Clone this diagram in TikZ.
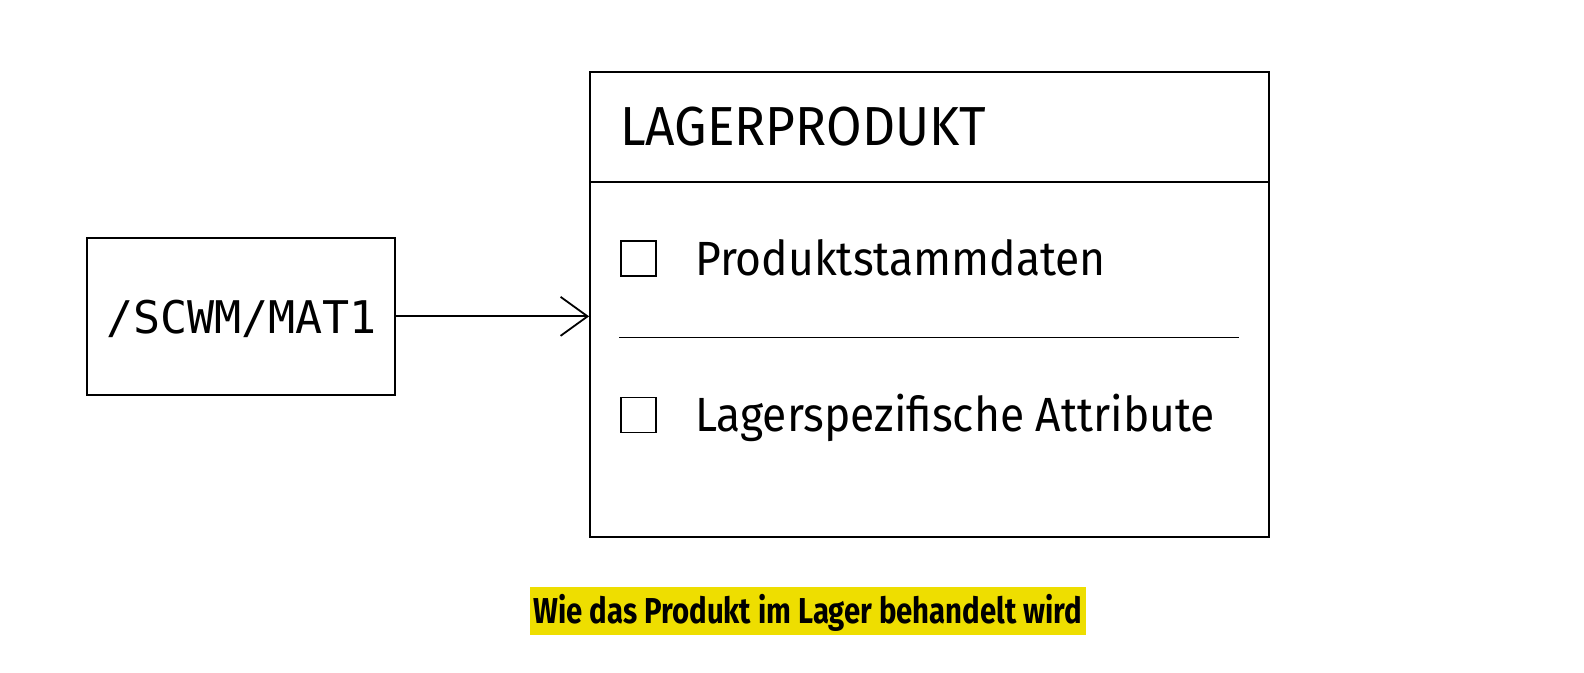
\documentclass[tikz,border=0pt]{standalone}
\usepackage{fontspec}
\setmainfont{Fira Sans}
\newfontfamily\titlefont[FakeStretch=0.935]{Fira Sans}
\newfontfamily\itemfont[FakeStretch=0.925]{Fira Sans}
\newfontfamily\capfont[FakeStretch=0.815]{Fira Sans}
\newfontfamily\monofont{DejaVu Sans Mono}
\usetikzlibrary{arrows.meta}
\definecolor{capyellow}{RGB}{238,222,0}
\tikzset{
  boxline/.style={draw=black, line width=1.8pt},
  plainbox/.style={boxline, rectangle, inner sep=0pt},
  checkbox/.style={boxline, rectangle, inner sep=0pt, minimum size=35pt},
  txt/.style={inner sep=0pt, anchor=base west, text=black},
  conn/.style={line width=1.8pt, -{Straight Barb[length=27pt,width=39pt,line width=1.8pt]}},
}
\begin{document}
\begin{tikzpicture}[x=1pt,y=-1pt]
\useasboundingbox (0,0) rectangle (1584,672);
% left box
\node[plainbox, minimum width=308.3pt, minimum height=157.3pt] (mat) at (240.85,316.35) {};
\node[inner sep=0pt, anchor=base] (matlabel) at (241.5,333) {\monofont\fontsize{45}{50}\selectfont /SCWM/MAT1};
% right box
\node[plainbox, minimum width=679pt, minimum height=464.7pt] (lager) at (929.5,304.65) {};
\coordinate (sepL) at (590,181.7);
\coordinate (sepR) at (1269,181.7);
\draw[boxline] (sepL) -- (sepR);
\node[txt] (title) at (620,145) {\titlefont\fontsize{55}{60}\selectfont LAGERPRODUKT};
% items
\node[checkbox] (cb1) at (638.3,258.8) {};
\node[txt] (item1) at (695,275) {\itemfont\fontsize{48}{52}\selectfont Produktstammdaten};
\coordinate (divL) at (619.3,337.5);
\coordinate (divR) at (1239,337.5);
\draw[boxline] (divL) -- (divR);
\node[checkbox] (cb2) at (638.3,415) {};
\node[txt] (item2) at (695,431.5) {\itemfont\fontsize{48}{52}\selectfont Lagerspezifische Attribute};
% arrow
\draw[conn] (mat.east) -- (mat.east -| lager.west);
% caption
\node[fill=capyellow, inner sep=0pt, minimum width=556pt, minimum height=48pt] (capbg) at (808,611.3) {};
\node[inner sep=0pt, anchor=base] (caption) at (808,623.8) {\capfont\fontsize{36}{40}\selectfont\bfseries Wie das Produkt im Lager behandelt wird};
\end{tikzpicture}
\end{document}
